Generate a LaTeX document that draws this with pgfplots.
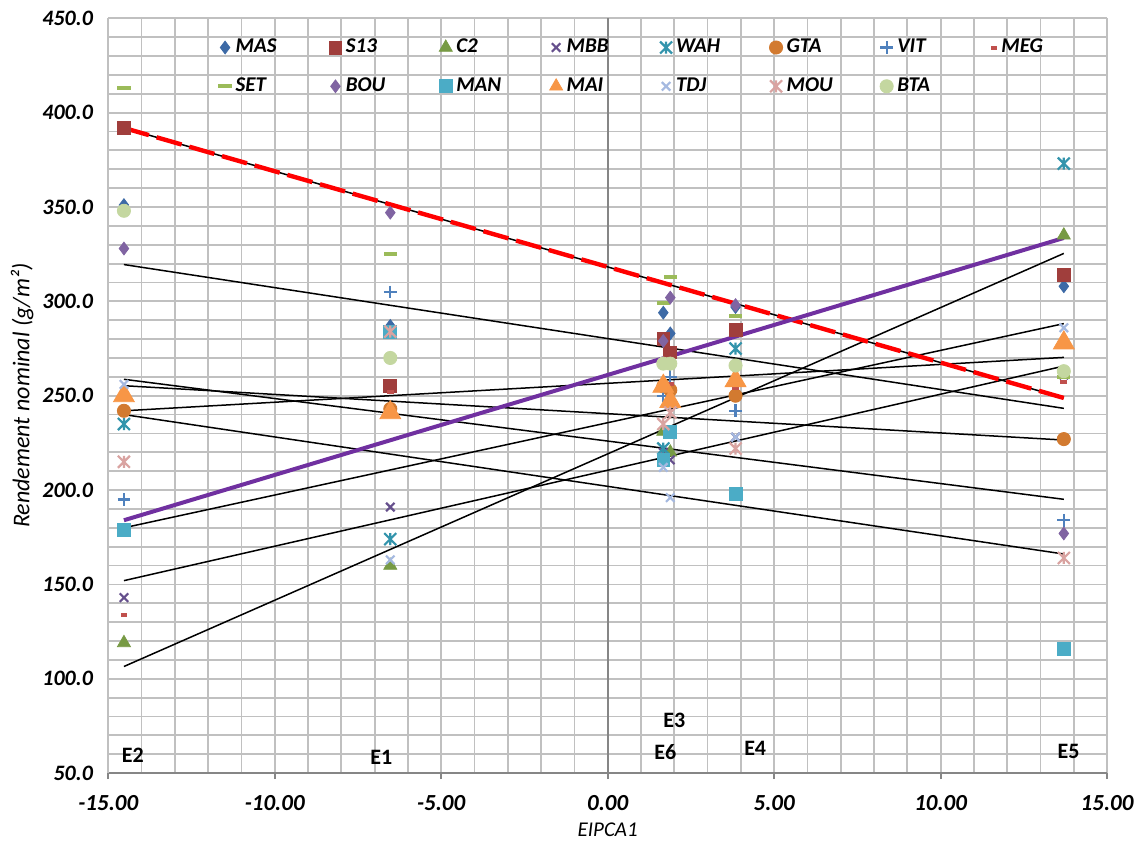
\documentclass[border=0pt]{standalone}
\usepackage{fontspec}
\setmainfont{Carlito}
\usepackage{pgfplots}
\usepackage{pgfplotstable}
\pgfplotsset{compat=1.18}

% series colours
\definecolor{cMAS}{HTML}{3D6AA6}
\definecolor{cS13}{HTML}{A03E3C}
\definecolor{cC2}{HTML}{779A44}
\definecolor{cMBB}{HTML}{654F8C}
\definecolor{cWAH}{HTML}{3394AC}
\definecolor{cGTA}{HTML}{D27A30}
\definecolor{cVIT}{HTML}{4F81BD}
\definecolor{cMEG}{HTML}{C0504D}
\definecolor{cSET}{HTML}{9BBB59}
\definecolor{cBOU}{HTML}{8064A2}
\definecolor{cMAN}{HTML}{4BACC6}
\definecolor{cMAI}{HTML}{F79646}
\definecolor{cTDJ}{HTML}{A5B9E0}
\definecolor{cMOU}{HTML}{D9A3A1}
\definecolor{cBTA}{HTML}{C4D7A0}
\definecolor{cPUR}{HTML}{7030A0}
\definecolor{gridgray}{HTML}{C0C0C0}
\definecolor{axgray}{HTML}{868686}

% x with a vertical stroke
\pgfdeclareplotmark{xstar}{%
  \pgfpathmoveto{\pgfqpoint{-\pgfplotmarksize}{-\pgfplotmarksize}}%
  \pgfpathlineto{\pgfqpoint{\pgfplotmarksize}{\pgfplotmarksize}}%
  \pgfpathmoveto{\pgfqpoint{-\pgfplotmarksize}{\pgfplotmarksize}}%
  \pgfpathlineto{\pgfqpoint{\pgfplotmarksize}{-\pgfplotmarksize}}%
  \pgfpathmoveto{\pgfqpoint{0pt}{-\pgfplotmarksize}}%
  \pgfpathlineto{\pgfqpoint{0pt}{\pgfplotmarksize}}%
  \pgfusepathqstroke}
% short horizontal bar
\pgfdeclareplotmark{dashbar}{%
  \pgfpathrectangle{\pgfqpoint{-\pgfplotmarksize}{-1pt}}{\pgfqpoint{2\pgfplotmarksize}{2pt}}%
  \pgfusepathqfill}

% genotype yields per environment
\pgfplotstableread{
env x MAS S13 C2 MBB WAH GTA VIT MEG SET BOU MAN MAI TDJ MOU BTA
E2 -14.53 351 392 119 143 235 242 195 134 413 328 179 250 256 215 348
E1 -6.53 287 255 160 191 174 243 305 252 325 347 284 241 163 284 270
E6 1.67 294 280 231 220 222 255 250 257 299 279 216 255 212 235 267
E3 1.88 283 273 220 216 250 253 260 256 313 302 231 247 196 241 267
E4 3.84 297 285 252 228 275 250 242 254 292 298 198 258 228 222 266
E5 13.70 308 314 335 261 373 227 184 257 260 177 116 278 286 164 263
}\datatable

\tikzset{
  ylab/.style={anchor=east, inner sep=0pt, font=\fontsize{11}{13}\selectfont\bfseries\itshape},
  xlab/.style={anchor=center, inner sep=0pt, font=\fontsize{11.5}{13}\selectfont\bfseries\itshape},
  envlab/.style={font=\fontsize{11}{13}\selectfont\bfseries},
}

\begin{document}
\begin{tikzpicture}
\begin{axis}[
  scale only axis,
  width=499.4pt, height=377.4pt,
  xmin=-15, xmax=15, ymin=50, ymax=450,
  clip=false,
  xtick={-15,-10,...,15}, ytick={50,100,...,450},
  xticklabels={}, yticklabels={},
  minor x tick num=4, minor y tick num=4,
  grid=both,
  major grid style={draw=gridgray, line width=0.9pt},
  minor grid style={draw=gridgray, line width=0.9pt},
  axis x line*=bottom, axis y line*=left,
  x axis line style={draw=axgray, line width=1.1pt, -},
  y axis line style={draw=gridgray, line width=0.9pt, -},
  tick align=outside,
  major tick length=3pt, minor tick length=0pt,
  xtick style={draw=axgray, line width=1.1pt},
  ytick style={draw=none},
  extra x ticks={0}, extra x tick labels={},
  extra x tick style={major grid style={draw=axgray, line width=1.1pt}, major tick length=0pt},
  xlabel={EIPCA1},
  ylabel={Rendement nominal (g/m²)},
  xlabel style={font=\fontsize{10.5}{12}\selectfont\itshape, at={(axis description cs:0.5,-0.0755)}, anchor=center},
  ylabel style={font=\fontsize{12}{14}\selectfont\itshape, at={(axis description cs:-0.0861,0.5)}, anchor=center},
  legend image code/.code={\draw[mark repeat=2,mark phase=2,#1] plot coordinates {(0pt,0pt)(3pt,0pt)(6pt,0pt)};},
  legend columns=8,
  legend cell align=left,
  legend style={
    at={(rel axis cs:0.1103,0.9777)}, anchor=north west,
    draw=none, fill=none, inner sep=0pt, outer sep=0pt,
    font=\fontsize{10.5}{12}\selectfont\bfseries\itshape,
    row sep=7pt,
    nodes={text width=44.7pt, align=left, inner xsep=2pt, inner ysep=2pt},
  },
]
% genotype means per environment
\addplot[only marks, mark=diamond*, mark size=3.2pt, color=cMAS] table[x=x, y=MAS]{\datatable};
\addlegendentry{MAS}
\addplot[only marks, mark=square*, mark size=3.2pt, color=cS13] table[x=x, y=S13]{\datatable};
\addlegendentry{S13}
\addplot[only marks, mark=triangle*, mark size=3.75pt, color=cC2] table[x=x, y=C2]{\datatable};
\addlegendentry{C2}
\addplot[only marks, mark=x, mark size=3pt, mark options={line width=1.1pt}, color=cMBB] table[x=x, y=MBB]{\datatable};
\addlegendentry{MBB}
\addplot[only marks, mark=xstar, mark size=3pt, mark options={line width=1.1pt}, color=cWAH] table[x=x, y=WAH]{\datatable};
\addlegendentry{WAH}
\addplot[only marks, mark=*, mark size=3.3pt, color=cGTA] table[x=x, y=GTA]{\datatable};
\addlegendentry{GTA}
\addplot[only marks, mark=+, mark size=3.2pt, mark options={line width=1.1pt}, color=cVIT] table[x=x, y=VIT]{\datatable};
\addlegendentry{VIT}
\addplot[only marks, mark=dashbar, mark size=1.7pt, color=cMEG] table[x=x, y=MEG]{\datatable};
\addlegendentry{MEG}
\addplot[only marks, mark=dashbar, mark size=3.3pt, color=cSET] table[x=x, y=SET]{\datatable};
\addlegendentry{SET}
\addplot[only marks, mark=diamond*, mark size=3.2pt, color=cBOU] table[x=x, y=BOU]{\datatable};
\addlegendentry{BOU}
\addplot[only marks, mark=square*, mark size=3.2pt, color=cMAN] table[x=x, y=MAN]{\datatable};
\addlegendentry{MAN}
\addplot[only marks, mark=triangle*, mark size=6pt, color=cMAI, forget plot] table[x=x, y=MAI]{\datatable};
\addlegendimage{only marks, mark=triangle*, mark size=3.75pt, color=cMAI}
\addlegendentry{MAI}
\addplot[only marks, mark=x, mark size=3pt, mark options={line width=1.1pt}, color=cTDJ] table[x=x, y=TDJ]{\datatable};
\addlegendentry{TDJ}
\addplot[only marks, mark=xstar, mark size=3pt, mark options={line width=1.1pt}, color=cMOU] table[x=x, y=MOU]{\datatable};
\addlegendentry{MOU}
\addplot[only marks, mark=*, mark size=3.3pt, color=cBTA] table[x=x, y=BTA]{\datatable};
\addlegendentry{BTA}

% fitted lines
\addplot[black, line width=0.75pt, forget plot] coordinates {(-14.53,319.5) (13.70,243.3)};
\addplot[black, line width=0.75pt, forget plot] coordinates {(-14.53,106.5) (13.70,325.4)};
\addplot[black, line width=0.75pt, forget plot] coordinates {(-14.53,180.0) (13.70,288.2)};
\addplot[black, line width=0.75pt, forget plot] coordinates {(-14.53,152.0) (13.70,265.7)};
\addplot[black, line width=0.75pt, forget plot] coordinates {(-14.53,242.0) (13.70,270.3)};
\addplot[black, line width=0.75pt, forget plot] coordinates {(-14.53,258.7) (13.70,195.1)};
\addplot[black, line width=0.75pt, forget plot] coordinates {(-14.53,255.3) (13.70,226.5)};
\addplot[black, line width=0.75pt, forget plot] coordinates {(-14.53,240.0) (13.70,166.1)};
\addplot[black, line width=0.75pt, forget plot] coordinates {(-14.53,391.9) (13.70,248.8)};
\addplot[red, line width=2.2pt, dash pattern=on 13pt off 4pt, forget plot] coordinates {(-14.53,391.9) (13.70,248.8)};
\addplot[cPUR, line width=2pt, forget plot] coordinates {(-14.53,184.0) (13.70,333.6)};

% environment names
\node[envlab] at (axis cs:-14.26,59.6) {E2};
\node[envlab] at (axis cs:-6.80,58.6) {E1};
\node[envlab] at (axis cs:1.73,61.3) {E6};
\node[envlab] at (axis cs:2.00,78.0) {E3};
\node[envlab] at (axis cs:4.43,63.3) {E4};
\node[envlab] at (axis cs:13.84,61.3) {E5};

% value axis numbers
\node[ylab] at (axis cs:-15.45,450) {450.0};
\node[ylab] at (axis cs:-15.45,400) {400.0};
\node[ylab] at (axis cs:-15.45,350) {350.0};
\node[ylab] at (axis cs:-15.45,300) {300.0};
\node[ylab] at (axis cs:-15.45,250) {250.0};
\node[ylab] at (axis cs:-15.45,200) {200.0};
\node[ylab] at (axis cs:-15.45,150) {150.0};
\node[ylab] at (axis cs:-15.45,100) {100.0};
\node[ylab] at (axis cs:-15.45,50) {50.0};
% EIPCA1 axis numbers
\node[xlab] at (axis cs:-15,34.1) {-15.00};
\node[xlab] at (axis cs:-10,34.1) {-10.00};
\node[xlab] at (axis cs:-5,34.1) {-5.00};
\node[xlab] at (axis cs:0,34.1) {0.00};
\node[xlab] at (axis cs:5,34.1) {5.00};
\node[xlab] at (axis cs:10,34.1) {10.00};
\node[xlab] at (axis cs:15,34.1) {15.00};
\end{axis}
\pgfresetboundingbox
\path[use as bounding box] (-54.15pt,-35pt) rectangle (515.85pt,386.55pt);
\end{tikzpicture}
\end{document}
